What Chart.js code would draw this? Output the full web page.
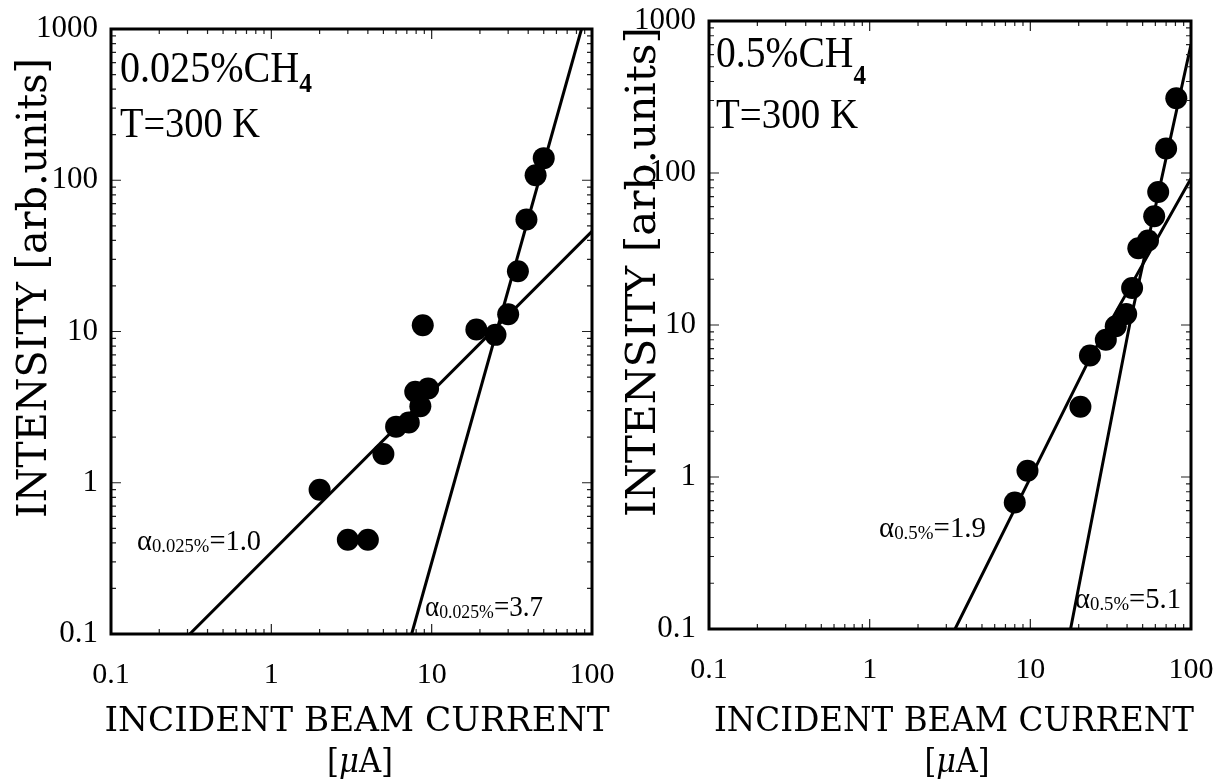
<!DOCTYPE html>
<html>
<head>
<meta charset="utf-8">
<title>Intensity vs incident beam current</title>
<script src="https://cdn.jsdelivr.net/npm/chart.js@4.4.1/dist/chart.umd.min.js"></script>
<style>
  html, body { margin: 0; padding: 0; background: #fff; }
  #wrap { position: relative; width: 1217px; height: 780px; overflow: hidden; }
  canvas { position: absolute; top: 0; }
  #chartLeft { left: 0; }
  #chartRight { left: 600px; }
</style>
</head>
<body>
<div id="wrap">
  <canvas id="chartLeft" width="640" height="780"></canvas>
  <canvas id="chartRight" width="617" height="780"></canvas>
</div>
<script>
// ---- values ----
const xTicks = [0.1, 1, 10, 100];
const yTicks = [0.1, 1, 10, 100, 1000];

// 0.025% CH4 panel
const lowCurrent   = [2.0, 3.0, 4.0, 5.0, 6.0, 7.2, 7.9, 8.5, 9.5, 8.8, 19, 25, 30, 34.5, 39, 44.5, 50];
const lowIntensity = [0.9, 0.42, 0.42, 1.55, 2.35, 2.5, 4.0, 3.2, 4.2, 11, 10.3, 9.5, 13, 25, 55, 108, 140];
const lowFitAX = [0.31, 100];      // alpha = 1.0
const lowFitAY = [0.1, 46];
const lowFitBX = [7.5, 86];        // alpha = 3.7
const lowFitBY = [0.1, 1000];

// 0.5% CH4 panel
const highCurrent   = [8.0, 9.6, 20.5, 23.5, 29.5, 34, 39.5, 43, 47, 54, 59, 62.5, 70, 81];
const highIntensity = [0.68, 1.1, 2.9, 6.3, 8.0, 9.8, 11.8, 17.5, 32, 36, 52, 75, 145, 310];
const highFitAX = [3.4, 23.2, 100];        // alpha = 1.9
const highFitAY = [0.1, 5.9, 92];
const highFitBX = [17.8, 41.7, 100];       // alpha = 5.1
const highFitBY = [0.1, 10.3, 700];

const SERIF = "'Liberation Serif', 'Times New Roman', serif";
const WIDE = "'DejaVu Serif', serif";

Chart.defaults.font.family = SERIF;
Chart.defaults.color = '#000';

function points(xs, ys) {
    return xs.map((x, i) => ({ x: x, y: ys[i] }));
}

function fontOf(p) {
    return (p.italic ? 'italic ' : '') + (p.bold ? 'bold ' : '') + p.size + 'px ' + (p.family || SERIF);
}

/**
 * Draw a run of text pieces (subscripts via dy), fitted to a target width
 */
function drawRun(ctx, parts, o) {
    ctx.save();
    ctx.translate(o.x, o.y);
    if (o.rotate) ctx.rotate(o.rotate);
    ctx.textBaseline = 'alphabetic';
    ctx.textAlign = 'left';
    ctx.fillStyle = '#000';
    const widths = parts.map(p => {
        ctx.font = fontOf(p);
        return ctx.measureText(p.t).width;
    });
    const total = widths.reduce((s, w) => s + w, 0);
    if (o.width) ctx.scale(o.width / total, 1);
    let cx = o.align === 'center' ? -total / 2 : 0;
    parts.forEach((p, i) => {
        ctx.font = fontOf(p);
        ctx.fillText(p.t, cx, p.dy || 0);
        cx += widths[i];
    });
    ctx.restore();
}

function decadeValues(min, max) {
    const out = [];
    for (let e = Math.floor(Math.log10(min)); e < Math.ceil(Math.log10(max)); e++) {
        for (let d = 1; d <= 9; d++) {
            const v = d * Math.pow(10, e);
            if (v > min * 1.0001 && v < max * 0.9999) out.push({ v: v, major: d === 1 });
        }
    }
    return out;
}

// frame, inward tick marks and the annotation texts
function makeFigurePlugin(labels, offsetX) {
    return {
        id: 'figure',
        afterDraw(chart) {
            const ctx = chart.ctx;
            const a = chart.chartArea;
            const xs = chart.scales.x;
            const ys = chart.scales.y;

            ctx.save();
            ctx.strokeStyle = '#222';
            ctx.lineWidth = 1.2;
            ctx.beginPath();
            decadeValues(xs.min, xs.max).forEach(t => {
                const px = xs.getPixelForValue(t.v);
                const len = t.major ? 10 : 5;
                ctx.moveTo(px, a.bottom); ctx.lineTo(px, a.bottom - len);
                ctx.moveTo(px, a.top); ctx.lineTo(px, a.top + len);
            });
            decadeValues(ys.min, ys.max).forEach(t => {
                const py = ys.getPixelForValue(t.v);
                const len = t.major ? 10 : 5;
                ctx.moveTo(a.left, py); ctx.lineTo(a.left + len, py);
                ctx.moveTo(a.right, py); ctx.lineTo(a.right - len, py);
            });
            ctx.stroke();

            ctx.strokeStyle = '#000';
            ctx.lineWidth = 3;
            ctx.strokeRect(a.left, a.top, a.right - a.left, a.bottom - a.top);
            ctx.restore();

            labels.forEach(l => drawRun(ctx, l.parts, {
                x: l.x - offsetX, y: l.y, width: l.w, align: l.align, rotate: l.rotate
            }));
        }
    };
}

function alphaParts(sub, value) {
    return [
        { t: 'α', size: 29 },
        { t: sub, size: 19, dy: 2 },
        { t: '=' + value, size: 29 }
    ];
}

function axisTitleLabels(yX, yY, yLen, xX, xW, uX, uW) {
    return [
        { parts: [{ t: 'INTENSITY [arb.units]', size: 41, family: WIDE }],
          x: yX, y: yY, w: yLen, align: 'center', rotate: -Math.PI / 2 },
        { parts: [{ t: 'INCIDENT BEAM CURRENT', size: 34, family: WIDE }],
          x: xX, y: 731, w: xW, align: 'center' },
        { parts: [{ t: '[', size: 33, family: WIDE }, { t: 'μ', size: 33, italic: true, family: WIDE }, { t: 'A]', size: 33, family: WIDE }],
          x: uX, y: 772, w: uW, align: 'center' }
    ];
}

const leftLabels = [
    { parts: [{ t: '0.025%CH', size: 44 }, { t: '4', size: 28, bold: true, dy: 10 }], x: 120, y: 82, w: 192 },
    { parts: [{ t: 'T=300 K', size: 42 }], x: 120, y: 137, w: 140 },
    { parts: alphaParts('0.025%', '1.0'), x: 137, y: 550, w: 124 },
    { parts: alphaParts('0.025%', '3.7'), x: 425, y: 616, w: 118 }
].concat(axisTitleLabels(46, 288, 460, 357, 505, 360, 66));

const rightLabels = [
    { parts: [{ t: '0.5%CH', size: 44 }, { t: '4', size: 28, bold: true, dy: 17 }], x: 716, y: 67, w: 150 },
    { parts: [{ t: 'T=300 K', size: 42 }], x: 716, y: 128, w: 142 },
    { parts: alphaParts('0.5%', '1.9'), x: 879, y: 537, w: 107 },
    { parts: alphaParts('0.5%', '5.1'), x: 1075, y: 608, w: 106 }
].concat(axisTitleLabels(655, 272, 490, 954, 480, 957, 65));

function buildChart(canvasId, layout, pts, fits, labels, offsetX) {
    const datasets = [{
        data: pts,
        showLine: false,
        pointRadius: 11,
        pointBackgroundColor: '#000',
        pointBorderWidth: 0,
        order: 0
    }];
    fits.forEach(f => datasets.push({
        data: f,
        showLine: true,
        pointRadius: 0,
        borderColor: '#000',
        borderWidth: 3,
        order: 1
    }));

    return new Chart(document.getElementById(canvasId), {
        type: 'scatter',
        data: { datasets: datasets },
        options: {
            responsive: false,
            animation: false,
            events: [],
            layout: { padding: { top: layout.top, right: layout.right, left: 0, bottom: 0 } },
            plugins: { legend: { display: false }, tooltip: { enabled: false } },
            scales: {
                x: {
                    type: 'logarithmic',
                    min: 0.1,
                    max: 100,
                    afterBuildTicks: s => { s.ticks = xTicks.map(v => ({ value: v })); },
                    afterFit: s => { s.height = layout.xHeight; s.paddingLeft = 0; s.paddingRight = 0; },
                    grid: { display: false, drawTicks: false },
                    border: { display: false },
                    ticks: {
                        font: { size: 30 },
                        color: '#000',
                        padding: 23,
                        autoSkip: false,
                        maxRotation: 0,
                        callback: v => String(v)
                    }
                },
                y: {
                    type: 'logarithmic',
                    min: 0.1,
                    max: 1000,
                    afterBuildTicks: s => { s.ticks = yTicks.map(v => ({ value: v })); },
                    afterFit: s => { s.width = layout.yWidth; s.paddingTop = 0; s.paddingBottom = 0; },
                    grid: { display: false, drawTicks: false },
                    border: { display: false },
                    ticks: {
                        font: { size: 31 },
                        color: '#000',
                        padding: 13,
                        autoSkip: false,
                        callback: v => String(v)
                    }
                }
            }
        },
        plugins: [makeFigurePlugin(labels, offsetX)]
    });
}

buildChart('chartLeft',
    { top: 29, right: 48, xHeight: 146, yWidth: 111 },
    points(lowCurrent, lowIntensity),
    [points(lowFitAX, lowFitAY), points(lowFitBX, lowFitBY)],
    leftLabels, 0);

buildChart('chartRight',
    { top: 21, right: 26, xHeight: 151, yWidth: 109 },
    points(highCurrent, highIntensity),
    [points(highFitAX, highFitAY), points(highFitBX, highFitBY)],
    rightLabels, 600);
</script>
</body>
</html>
